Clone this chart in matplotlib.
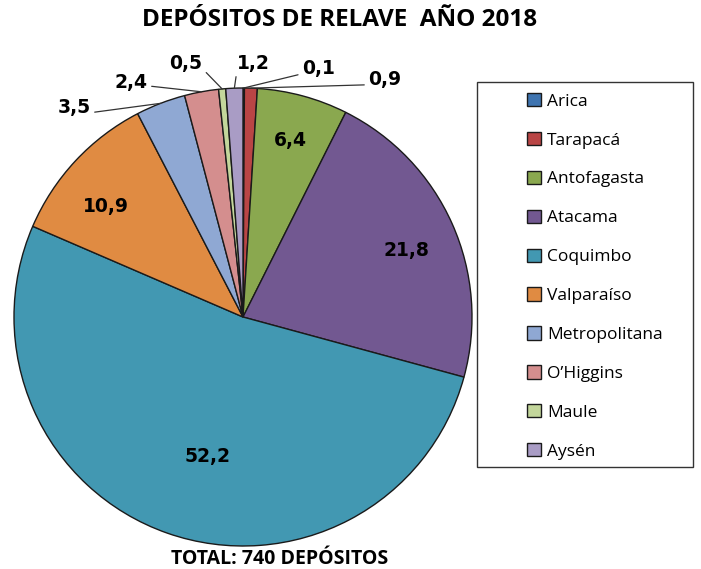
import numpy as np
import matplotlib
matplotlib.use("Agg")
import matplotlib.pyplot as plt
from matplotlib.patches import Rectangle

# Datos: porcentaje de depósitos de relave por región, año 2018
regiones = ["Arica", "Tarapacá", "Antofagasta", "Atacama", "Coquimbo",
            "Valparaíso", "Metropolitana", "O’Higgins", "Maule", "Aysén"]
porcentajes = [0.1, 0.9, 6.4, 21.8, 52.2, 10.9, 3.5, 2.4, 0.5, 1.2]
colores = ["#3f74b0", "#b94545", "#8aa84f", "#725891", "#4298b2",
           "#e08b42", "#8fa8d3", "#d48e8e", "#c3d69b", "#a99cc5"]

# etiquetas dentro del sector: (region, radio, ajuste de angulo en grados)
internas = {"Antofagasta": (0.80, 0), "Atacama": (0.77, -2),
            "Coquimbo": (0.63, 5), "Valparaíso": (0.77, 4)}
# etiquetas fuera del sector: posicion del texto (unidades de radio)
externas = {"Arica": (0.33, 1.087), "Tarapacá": (0.62, 1.039),
            "Aysén": (0.044, 1.109), "Maule": (-0.249, 1.109),
            "O’Higgins": (-0.489, 1.026), "Metropolitana": (-0.738, 0.917)}
relpos = {"Arica": (0.0, 0.2), "Tarapacá": (0.0, 0.2), "Aysén": (0.0, 0.0),
          "Maule": (1.0, 0.2), "O’Higgins": (1.0, 0.3), "Metropolitana": (1.0, 0.2)}

W, H = 701, 569
cx, cy, R = 243, 317, 229

fig = plt.figure(figsize=(W / 100, H / 100), dpi=100)
ax = fig.add_axes([0, 0, 1, 1])

wedges, _ = ax.pie(porcentajes, colors=colores, startangle=90, counterclock=False,
                   radius=1, wedgeprops=dict(edgecolor="#1a1a1a", linewidth=1.0))
ax.set_xlim(-cx / R, (W - cx) / R)
ax.set_ylim(-(H - cy) / R, cy / R)
ax.set_aspect("auto")
ax.axis("off")

fuente_num = dict(fontsize=13.5, fontweight="bold", family="DejaVu Sans", color="black")

for w, reg, val in zip(wedges, regiones, porcentajes):
    texto = f"{val:.1f}".replace(".", ",")
    ang = np.deg2rad((w.theta1 + w.theta2) / 2)
    if reg in internas:
        r, da = internas[reg]
        a = ang + np.deg2rad(da)
        ax.text(r * np.cos(a), r * np.sin(a), texto, ha="center", va="center", **fuente_num)
    else:
        tx, ty = externas[reg]
        ax.annotate(texto, xy=(np.cos(ang), np.sin(ang)), xytext=(tx, ty),
                    ha="center", va="center", **fuente_num,
                    arrowprops=dict(arrowstyle="-", color="#333333", lw=0.9,
                                    shrinkA=1, shrinkB=0, relpos=relpos[reg]))

fig.text(340 / W, 1 - 20 / H, "DEPÓSITOS DE RELAVE  AÑO 2018", ha="center", va="center",
         fontsize=17.5, fontweight="bold", family="Open Sans")
fig.text(280 / W, 1 - 559 / H, "TOTAL: 740 DEPÓSITOS", ha="center", va="center",
         fontsize=14, fontweight="bold", family="Open Sans")

# marco de la leyenda
fig.patches.append(Rectangle((477 / W, 1 - 467 / H), (693 - 477) / W, (467 - 82) / H,
                             transform=fig.transFigure, fill=False,
                             edgecolor="#333333", linewidth=1.0))
fig.legend(wedges, regiones, loc="upper left", bbox_to_anchor=(527 / W, 1 - 93 / H),
           frameon=False, borderpad=0, borderaxespad=0,
           prop=dict(family="Open Sans", size=12.5),
           handlelength=0.8, handleheight=0.8, handletextpad=0.35,
           labelspacing=1.28)

fig.savefig("out.png", dpi=100)
